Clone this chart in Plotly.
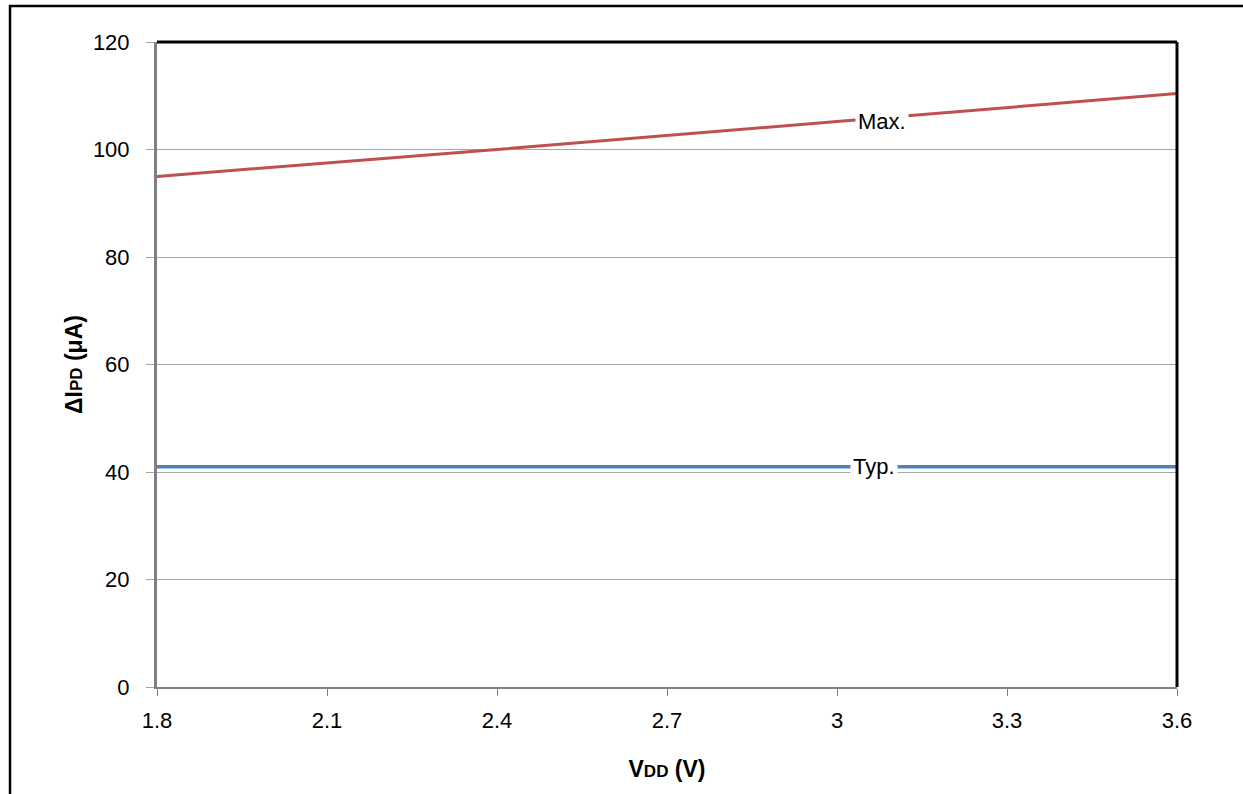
import plotly.graph_objects as go

# data
vdd = [1.8, 2.4, 3.0, 3.6]
ipd_max = [95.0, 100.0, 105.2, 110.4]
ipd_typ = [41.0, 41.0, 41.0, 41.0]

x_ticks = [1.8, 2.1, 2.4, 2.7, 3.0, 3.3, 3.6]
x_tick_text = ['1.8', '2.1', '2.4', '2.7', '3', '3.3', '3.6']

fig = go.Figure()

fig.add_trace(go.Scatter(
    x=vdd, y=ipd_max, name='Max.', mode='lines',
    line=dict(color='#C0504D', width=3)
))
fig.add_trace(go.Scatter(
    x=vdd, y=ipd_typ, name='Typ.', mode='lines',
    line=dict(color='#4F81BD', width=3.5)
))

# in-line labels with white box
fig.add_annotation(x=3.08, y=105.3, text='Max.', showarrow=False,
                   bgcolor='white', borderpad=2,
                   font=dict(size=22, color='black'))
fig.add_annotation(x=3.065, y=41, text='Typ.', showarrow=False,
                   bgcolor='white', borderpad=2,
                   font=dict(size=22, color='black'))

# outer frame of the figure
fig.add_shape(type='rect', xref='paper', yref='paper',
              x0=-0.1441, x1=1.2, y0=-0.3, y1=1.0558,
              line=dict(color='black', width=2.5), layer='below')
# top and right border of the plot area
fig.add_shape(type='line', xref='paper', yref='paper',
              x0=0, x1=1, y0=1, y1=1, line=dict(color='black', width=3))
fig.add_shape(type='line', xref='paper', yref='paper',
              x0=1, x1=1, y0=0, y1=1, line=dict(color='black', width=3))

fig.update_layout(
    width=1243,
    height=794,
    margin=dict(l=157, r=66, t=42, b=107),
    plot_bgcolor='white',
    paper_bgcolor='white',
    showlegend=False,
    font=dict(family='Liberation Sans, Arial, sans-serif', size=22, color='black'),
    xaxis=dict(
        range=[1.8, 3.6],
        tickvals=x_ticks,
        ticktext=x_tick_text,
        showgrid=False,
        zeroline=False,
        showline=True,
        linecolor='#808080',
        linewidth=2,
        ticks='outside',
        ticklen=7,
        tickcolor='#808080',
        ticklabelstandoff=6,
        title=dict(
            text="<b>V<span style='font-size:17px'>DD</span> (V)</b>",
            font=dict(size=23),
            standoff=28
        )
    ),
    yaxis=dict(
        range=[0, 120],
        dtick=20,
        showgrid=True,
        gridcolor='#A6A6A6',
        gridwidth=1,
        zeroline=False,
        showline=True,
        linecolor='#808080',
        linewidth=3,
        ticks='outside',
        ticklen=8,
        tickcolor='#A6A6A6',
        ticklabelstandoff=12,
        title=dict(
            text="<b>ΔI<span style='font-size:17px'>PD</span> (μA)</b>",
            font=dict(size=23),
            standoff=4
        )
    )
)

# page body has a default 8px margin; drop it so the figure sits at 0,0
fig.write_html("out.html", config={'displayModeBar': False},
               post_script="document.body.style.margin='0px';")
